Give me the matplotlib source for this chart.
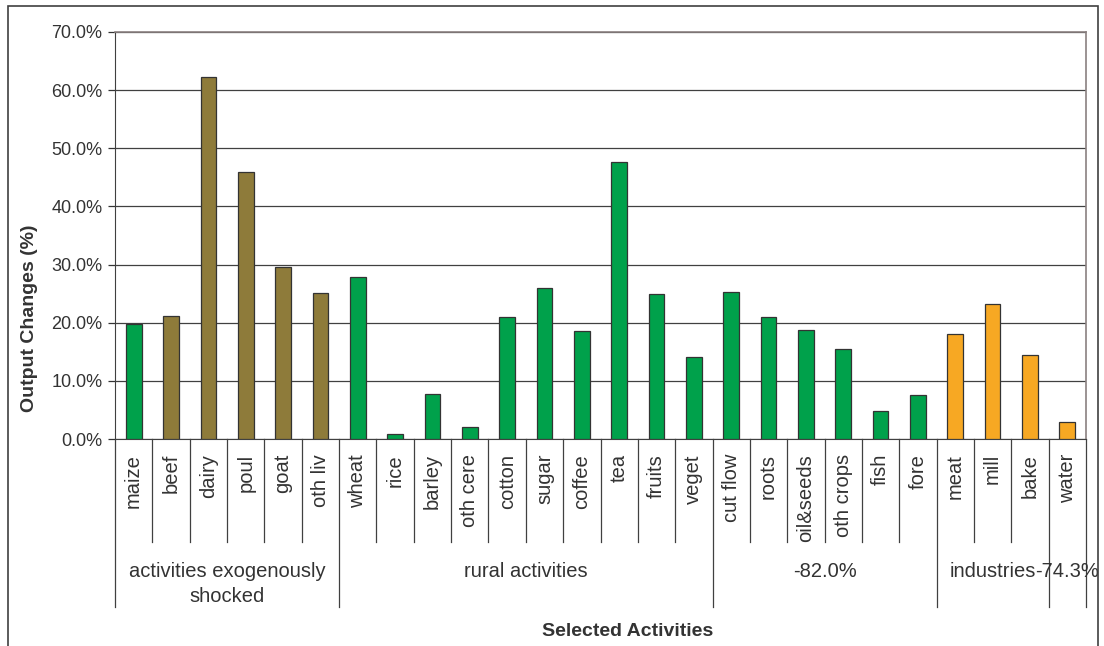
import numpy as np
import matplotlib
matplotlib.use("Agg")
import matplotlib.pyplot as plt
from matplotlib.patches import Rectangle
from matplotlib.ticker import FuncFormatter

plt.rcParams['font.family'] = ['Liberation Sans', 'DejaVu Sans']

# data
activities = ['maize', 'beef', 'dairy', 'poul', 'goat', 'oth liv',
              'wheat', 'rice', 'barley', 'oth cere', 'cotton', 'sugar', 'coffee',
              'tea', 'fruits', 'veget',
              'cut flow', 'roots', 'oil&seeds', 'oth crops', 'fish', 'fore',
              'meat', 'mill', 'bake', 'water']
changes = [19.7, 21.1, 62.2, 45.9, 29.6, 25.1,
           27.9, 0.8, 7.7, 2.1, 21.0, 26.0, 18.6, 47.6, 25.0, 14.1,
           25.3, 20.9, 18.7, 15.5, 4.8, 7.5,
           18.1, 23.3, 14.4, 2.9]
kinds = ['rural'] + ['shock'] * 5 + ['rural'] * 16 + ['ind'] * 4
groups = ['activities exogenously\nshocked', 'rural activities', '-82.0%',
          'industries', '-74.3%']
group_sizes = [6, 10, 6, 3, 1]

colors = {'rural': '#00A14B', 'shock': '#8E7B3A', 'ind': '#F7A823'}
txt = '#333333'

W, H = 1104, 646
fig = plt.figure(figsize=(W / 100, H / 100), dpi=100)
ax = fig.add_axes([115 / W, 1 - 439 / H, 971 / W, 407 / H])

x = np.arange(len(activities))
ax.bar(x, changes, width=0.42, color=[colors[k] for k in kinds],
       edgecolor='#333333', linewidth=0.9, zorder=3)

ax.set_xlim(-0.5, len(activities) - 0.5)
ax.set_ylim(0, 70)
ax.set_yticks(np.arange(0, 71, 10))
ax.yaxis.set_major_formatter(FuncFormatter(lambda v, p: f'{v:.1f}%'))
ax.tick_params(axis='y', labelsize=13, colors=txt, length=5, width=0.9, pad=4)
ax.set_xticks([])
ax.grid(axis='y', color='#404040', linewidth=0.9, zorder=0)

for s in ['top', 'right']:
    ax.spines[s].set_color('#8a8080')
    ax.spines[s].set_linewidth(1.2)
ax.spines['left'].set_color('#404040')
ax.spines['bottom'].set_color('#404040')

trans = ax.get_xaxis_transform()
short = -(542 - 439) / 407
long_ = -(607 - 439) / 407

# category labels and separators
for i, name in enumerate(activities):
    ax.text(i, -15 / 407, name, rotation=90, ha='center', va='top',
            fontsize=14.5, color=txt, transform=trans)
edges = np.cumsum([0] + group_sizes) - 0.5
for i in range(len(activities) + 1):
    xe = i - 0.5
    y0 = long_ if xe in edges else short
    ax.plot([xe, xe], [0, y0], color='#404040', lw=0.9,
            transform=trans, clip_on=False)

# group labels
for g, a, b in zip(groups, edges[:-1], edges[1:]):
    ax.text((a + b) / 2, -(562 - 439) / 407, g, ha='center', va='top',
            fontsize=14.5, color=txt, transform=trans, linespacing=1.4)

fig.text(30 / W, 1 - 318 / H, 'Output Changes (%)', rotation=90, ha='center',
         va='center', fontsize=14, fontweight='bold', color=txt)
fig.text(628 / W, 1 - 632 / H, 'Selected Activities', ha='center',
         va='center', fontsize=14, fontweight='bold', color=txt)

fig.patches.append(Rectangle((8 / W, -0.02), (1098 - 8) / W, 1.02 - 6 / H,
                             transform=fig.transFigure, fill=False,
                             edgecolor='#404040', lw=1.2))

fig.savefig('out.png', dpi=100)
